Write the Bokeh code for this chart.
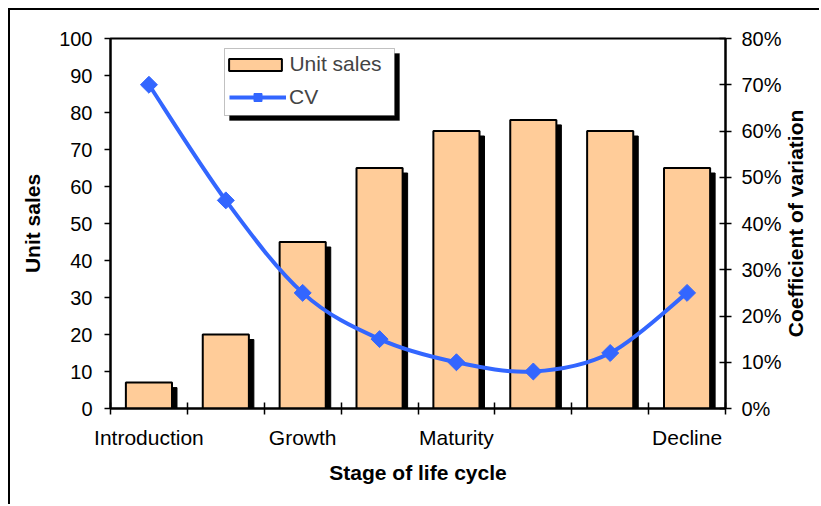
import numpy as np
from bokeh.plotting import figure
from bokeh.models import (Range1d, LinearAxis, FixedTicker, NumeralTickFormatter,
                          Legend, LegendItem, BoxAnnotation)
from bokeh.embed import file_html
from bokeh.resources import INLINE

# ---------------- data ----------------
stage_index = [1, 2, 3, 4, 5, 6, 7, 8]
unit_sales = [7, 20, 45, 65, 75, 78, 75, 65]
cv = [0.70, 0.45, 0.25, 0.15, 0.10, 0.08, 0.12, 0.25]
stage_tick_pos = [1, 3, 5, 8]
stage_tick_labels = ["Introduction", "Growth", "Maturity", "Decline"]
sales_ticks = [0, 10, 20, 30, 40, 50, 60, 70, 80, 90, 100]
cv_ticks = [0.0, 0.1, 0.2, 0.3, 0.4, 0.5, 0.6, 0.7, 0.8]

# ---------------- styles ----------------
FONT = "Liberation Sans"
BAR_FILL = "#FFCC99"
BLUE = "#3366FF"
W, H = 811, 496
ML, MR, MT, MB = 100, 95, 28, 98
frame_w = W - ML - MR
frame_h = H - MT - MB

n = len(stage_index)
x_lo, x_hi = 0.5, n + 0.5
cv_max = 0.8
px_x = frame_w / (x_hi - x_lo)
px_y = frame_h / 100.0
shadow_px = 5
bar_w = 0.6

p = figure(width=W, height=H, x_range=Range1d(x_lo, x_hi), y_range=Range1d(0, 100),
           output_backend="svg", toolbar_location=None,
           min_border_left=ML, min_border_right=MR, min_border_top=MT, min_border_bottom=MB)
p.extra_y_ranges = {"cv": Range1d(0, cv_max)}
p.styles = {"border-left": "2px solid black", "border-top": "2px solid black",
            "margin-left": "8px", "margin-top": "8px"}
p.xgrid.visible = False
p.ygrid.visible = False
p.outline_line_color = "black"
p.outline_line_width = 2
p.background_fill_color = "white"
p.border_fill_color = "white"

# bar shadows
p.vbar(x=[x + shadow_px / px_x for x in stage_index], width=bar_w, bottom=0,
       top=[v - shadow_px / px_y for v in unit_sales],
       fill_color="black", line_color="black")
bars = p.vbar(x=stage_index, width=bar_w, bottom=0, top=unit_sales,
              fill_color=BAR_FILL, line_color="black", line_width=2)

# smoothed CV curve (cubic Bezier segments through the data points)
xs = np.array(stage_index, dtype=float)
ys = np.array(cv, dtype=float)
xp = np.concatenate([[xs[0]], xs, [xs[-1]]])
yp = np.concatenate([[ys[0]], ys, [ys[-1]]])
x0, y0, x1, y1, cx0, cy0, cx1, cy1 = [], [], [], [], [], [], [], []
for i in range(n - 1):
    x0.append(xs[i]); y0.append(ys[i]); x1.append(xs[i + 1]); y1.append(ys[i + 1])
    cx0.append(xs[i] + (xs[i + 1] - xp[i]) / 6); cy0.append(ys[i] + (ys[i + 1] - yp[i]) / 6)
    cx1.append(xs[i + 1] - (xp[i + 3] - xs[i]) / 6); cy1.append(ys[i + 1] - (yp[i + 3] - ys[i]) / 6)
curve = p.bezier(x0=x0, y0=y0, x1=x1, y1=y1, cx0=cx0, cy0=cy0, cx1=cx1, cy1=cy1,
                 line_color=BLUE, line_width=4, y_range_name="cv")
dots = p.scatter(x=stage_index, y=cv, marker="square", angle=np.pi / 4, size=12,
                 fill_color=BLUE, line_color=BLUE, y_range_name="cv")

# x axis: category boundaries as minor ticks, stage names as labels
xa = p.xaxis[0]
xa.ticker = FixedTicker(ticks=stage_tick_pos,
                        minor_ticks=[x_lo + k for k in range(n + 1)])
xa.major_label_overrides = {pos: lab for pos, lab in zip(stage_tick_pos, stage_tick_labels)}
xa.major_tick_in = 0
xa.major_tick_out = 0
xa.minor_tick_in = 6
xa.minor_tick_out = 6
xa.minor_tick_line_color = "black"
xa.minor_tick_line_width = 1.5
xa.major_label_standoff = 11
xa.axis_label = "Stage of life cycle"
xa.axis_label_standoff = 9

ya = p.yaxis[0]
ya.ticker = FixedTicker(ticks=sales_ticks, minor_ticks=[])
ya.major_tick_in = 0
ya.major_tick_out = 6
ya.major_label_standoff = 12
ya.axis_label = "Unit sales"
ya.axis_label_standoff = 12

ra = LinearAxis(y_range_name="cv", ticker=FixedTicker(ticks=cv_ticks, minor_ticks=[]),
                formatter=NumeralTickFormatter(format="0%"))
ra.major_tick_in = 6
ra.major_tick_out = 6
ra.major_label_standoff = 10
p.add_layout(ra, "right")

for ax in [xa, ya, ra]:
    ax.axis_line_color = "black"
    ax.axis_line_width = 2
    ax.major_tick_line_color = "black"
    ax.major_tick_line_width = 1.5
    ax.major_label_text_font = FONT
    ax.major_label_text_color = "black"
    ax.major_label_text_font_size = "20px"
    ax.axis_label_text_font = FONT
    ax.axis_label_text_font_style = "bold"
    ax.axis_label_text_font_size = "21px"
    ax.axis_label_text_color = "black"
xa.major_label_text_font_size = "21px"

# right-hand title, reading bottom-to-top: drawn as the single tick label of a
# bare outer axis; a rotated label starts at its tick, so the tick sits half
# the title's length below the frame's middle.
right_title = "Coefficient of variation"
title_len_px = 227.5
title_start = round((0.5 - (title_len_px / 2) / frame_h) * cv_max, 4)
ta = LinearAxis(y_range_name="cv", ticker=FixedTicker(ticks=[title_start], minor_ticks=[]))
ta.major_label_overrides = {title_start: right_title}
ta.major_label_orientation = np.pi / 2
ta.axis_line_color = None
ta.major_tick_line_color = None
ta.major_tick_in = 0
ta.major_tick_out = 0
ta.major_label_standoff = 11
ta.major_label_text_font = FONT
ta.major_label_text_font_style = "bold"
ta.major_label_text_font_size = "21px"
ta.major_label_text_color = "black"
p.add_layout(ta, "right")

# legend: framed box with drop shadow, two rows
box_l, box_t, box_w, box_h = ML + 112, MT + 8, 170, 67   # canvas px
p.add_layout(BoxAnnotation(left=box_l + shadow_px, right=box_l + box_w + shadow_px,
                           top=box_t + shadow_px, bottom=box_t + box_h + shadow_px,
                           left_units="canvas", right_units="canvas",
                           top_units="canvas", bottom_units="canvas",
                           fill_color="black", fill_alpha=1.0, line_color="black"))
p.add_layout(BoxAnnotation(left=box_l, right=box_l + box_w, top=box_t, bottom=box_t + box_h,
                           left_units="canvas", right_units="canvas",
                           top_units="canvas", bottom_units="canvas",
                           fill_color="white", fill_alpha=1.0,
                           line_color="#333333", line_width=1))

row_h = 24
leg_common = dict(border_line_color=None, background_fill_alpha=0.0,
                  label_text_font=FONT, label_text_font_size="21px",
                  padding=0, spacing=0, label_height=row_h, margin=0)
leg_a = Legend(items=[LegendItem(label="Unit sales", renderers=[bars])],
               location=(112.4, frame_h - 14 - row_h),
               glyph_width=66, glyph_height=15, label_standoff=1, **leg_common)
leg_b = Legend(items=[LegendItem(label="CV", renderers=[curve, dots])],
               location=(119, frame_h - 47 - row_h),
               glyph_width=57, glyph_height=20, label_standoff=3, **leg_common)
p.add_layout(leg_a)
p.add_layout(leg_b)

open("out.html", "w").write(file_html(p, INLINE))
